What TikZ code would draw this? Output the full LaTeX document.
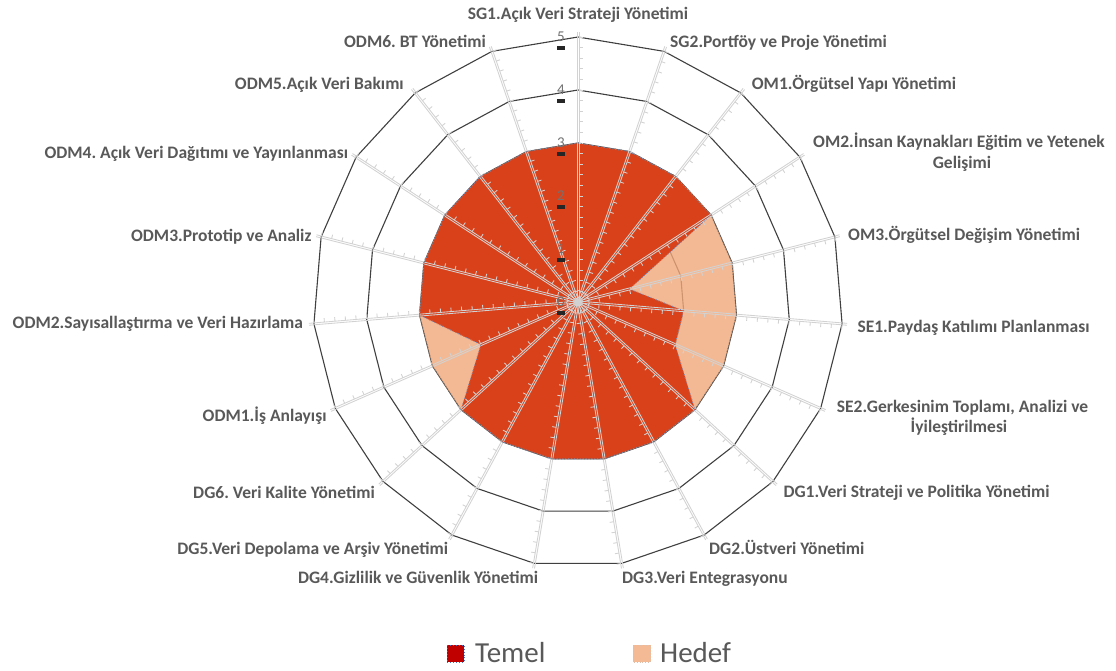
\documentclass[tikz,border=0pt]{standalone}
\usepackage{fontspec}
\setmainfont{Carlito}
\frenchspacing
\definecolor{temelc}{HTML}{D9411B}
\definecolor{hedefc}{HTML}{F1A87A}
\definecolor{labelc}{HTML}{595959}
\definecolor{ringc}{HTML}{404040}
\definecolor{spokec}{HTML}{D2D2D2}
\definecolor{temelb}{HTML}{7D8DB5}
\definecolor{legtemel}{HTML}{C00000}
\definecolor{legtemelb}{HTML}{4472C4}
\definecolor{leghedef}{HTML}{F4B995}
\begin{document}
\begin{tikzpicture}[x=1pt,y=-1pt,
  ring/.style={draw=ringc,line width=1.1pt,line join=round},
  temelfill/.style={fill=temelc},
  hedeffill/.style={fill=hedefc,fill opacity=0.8},
  temelline/.style={draw=temelb,dotted,line width=0.9pt},
  hedefline/.style={draw=ringc!80,dotted,line width=0.9pt},
  spokeline/.style={draw=spokec,line width=0.85pt},
  tickmark/.style={draw=spokec,line width=0.85pt},
  axlabel/.style={font=\fontsize{17.5}{21}\selectfont\bfseries,text=labelc,inner sep=0pt,text height=11.2pt,text depth=0pt},
  vallabel/.style={font=\fontsize{15}{17}\selectfont,text=labelc!85,inner sep=0pt},
  valdash/.style={fill=black!85},
  legtext/.style={font=\fontsize{29}{33}\selectfont,text=labelc,inner sep=0pt,text height=18.6pt,text depth=0pt}]

% canvas
\path[use as bounding box,fill=white] (0,0) rectangle (1116,671);
\coordinate (ctr) at (578,302);

% grid rings, one per level
\foreach \v in {1,...,5}{
  \draw[ring] (578,{302-53*\v})
    \foreach \k in {1,...,18}{ -- ({578+53*\v*sin(\k*360/19)},{302-53*\v*cos(\k*360/19)}) } -- cycle;
}

% Hedef series (level 3 on every axis)
\path[hedeffill] (578,143)
  \foreach \k in {1,...,18}{ -- ({578+159*sin(\k*360/19)},{302-159*cos(\k*360/19)}) } -- cycle;

% Temel series
\path[temelfill] (578,143)
  \foreach \v [count=\k from 0] in {3,3,3,3,1,2,2,3,3,3,3,3,3,2,3,3,3,3,3}{
    -- ({578+53*\v*sin(\k*360/19)},{302-53*\v*cos(\k*360/19)}) } -- cycle;

% spokes (hollow double line) with minor ticks
\foreach \k in {0,...,18}{
  \pgfmathsetmacro\a{\k*360/19}
  \pgfmathsetmacro\px{0.95*cos(\a)}
  \pgfmathsetmacro\py{0.95*sin(\a)}
  \coordinate (s\k) at ({578+270*sin(\a)},{302-270*cos(\a)});
  \draw[spokeline] ([shift={(\px,\py)}]ctr) -- ([shift={(\px,\py)}]s\k);
  \draw[spokeline] ([shift={(-\px,-\py)}]ctr) -- ([shift={(-\px,-\py)}]s\k);
  \draw[tickmark] \foreach \j in {1,...,25}{
    ({578+10.6*\j*sin(\a)+\px},{302-10.6*\j*cos(\a)+\py}) -- ++({4*cos(\a)},{4*sin(\a)}) };
}

% series outlines
\draw[hedefline] (578,143)
  \foreach \k in {1,...,18}{ -- ({578+159*sin(\k*360/19)},{302-159*cos(\k*360/19)}) } -- cycle;
\draw[temelline] (578,143)
  \foreach \v [count=\k from 0] in {3,3,3,3,1,2,2,3,3,3,3,3,3,2,3,3,3,3,3}{
    -- ({578+53*\v*sin(\k*360/19)},{302-53*\v*cos(\k*360/19)}) } -- cycle;

% value scale
\foreach \v in {0,...,5}{
  \node[vallabel] (v\v) at (561,{301.5-53*\v}) {\v};
  \fill[valdash] (557,{311.3-53*\v}) rectangle (565,{314.8-53*\v});
}

% axis labels
\node[axlabel] (l0) at (578,14) {SG1.Açık Veri Strateji Yönetimi};
\node[axlabel,anchor=west] (l1) at (670,41.7) {SG2.Portföy ve Proje Yönetimi};
\node[axlabel,anchor=west] (l2) at (751.7,84) {OM1.Örgütsel Yapı Yönetimi};
\node[axlabel] (l3a) at (959,141.7) {OM2.İnsan Kaynakları Eğitim ve Yetenek};
\node[axlabel] (l3b) at (962,163.3) {Gelişimi};
\node[axlabel,anchor=west] (l4) at (848,235) {OM3.Örgütsel Değişim Yönetimi};
\node[axlabel,anchor=west] (l5) at (857.3,326.7) {SE1.Paydaş Katılımı Planlanması};
\node[axlabel] (l6a) at (962.5,406.7) {SE2.Gerkesinim Toplamı, Analizi ve};
\node[axlabel] (l6b) at (959,426.7) {İyileştirilmesi};
\node[axlabel,anchor=west] (l7) at (783.3,491.7) {DG1.Veri Strateji ve Politika Yönetimi};
\node[axlabel,anchor=west] (l8) at (709,548.5) {DG2.Üstveri Yönetimi};
\node[axlabel,anchor=west] (l9) at (622,577.7) {DG3.Veri Entegrasyonu};
\node[axlabel,anchor=east] (l10) at (538.3,577.7) {DG4.Gizlilik ve Güvenlik Yönetimi};
\node[axlabel,anchor=east] (l11) at (448.3,549.3) {DG5.Veri Depolama ve Arşiv Yönetimi};
\node[axlabel,anchor=east] (l12) at (375,492.7) {DG6. Veri Kalite Yönetimi};
\node[axlabel,anchor=east] (l13) at (326.7,416) {ODM1.İş Anlayışı};
\node[axlabel,anchor=east] (l14) at (303.3,322.7) {ODM2.Sayısallaştırma ve Veri Hazırlama};
\node[axlabel,anchor=east] (l15) at (311.7,236) {ODM3.Prototip ve Analiz};
\node[axlabel,anchor=east] (l16) at (348.3,152.7) {ODM4. Açık Veri Dağıtımı ve Yayınlanması};
\node[axlabel,anchor=east] (l17) at (404,84) {ODM5.Açık Veri Bakımı};
\node[axlabel,anchor=east] (l18) at (486,41.7) {ODM6. BT Yönetimi};

% legend
\path[fill=legtemel,draw=legtemelb,dotted,line width=0.9pt] (447,645) rectangle (464,662);
\node[legtext,anchor=west] (lgt) at (475,653) {Temel};
\path[fill=leghedef,draw=leghedef!80!black!60,dotted,line width=0.9pt] (633.3,645) rectangle (650.7,662);
\node[legtext,anchor=west] (lgh) at (660,653) {Hedef};
\end{tikzpicture}
\end{document}
